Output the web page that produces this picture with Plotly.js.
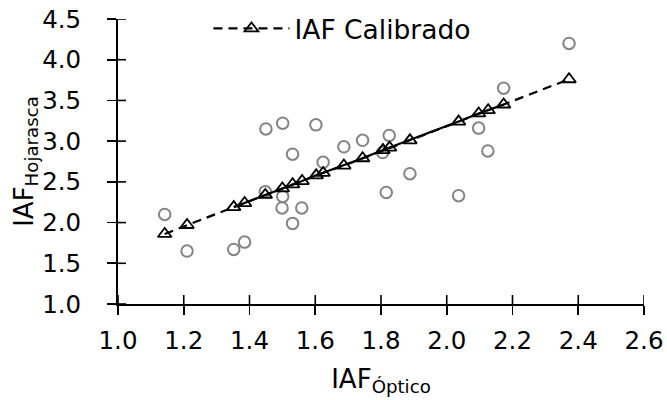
<!DOCTYPE html>
<html>
<head>
<meta charset="utf-8">
<script src="https://cdn.plot.ly/plotly-3.0.1.min.js"></script>
<style>html,body{margin:0;padding:0;background:#fff;}#chart{width:667px;height:400px;}</style>
</head>
<body>
<div id="chart"></div>
<script>
// Observed points (IAF Óptico vs IAF Hojarasca)
const obsX = [1.142, 1.210, 1.352, 1.385, 1.450, 1.448, 1.501, 1.501, 1.499, 1.531, 1.531, 1.559,
              1.602, 1.624, 1.687, 1.744, 1.805, 1.825, 1.816, 1.888, 2.036, 2.097, 2.125, 2.173, 2.372];
const obsY = [2.10, 1.65, 1.67, 1.76, 3.15, 2.38, 3.22, 2.32, 2.18, 2.84, 1.99, 2.18,
              3.20, 2.74, 2.93, 3.01, 2.86, 3.07, 2.37, 2.60, 2.33, 3.16, 2.88, 3.65, 4.20];
// Calibrated series
const calX = [1.142, 1.210, 1.352, 1.385, 1.448, 1.500, 1.531, 1.560, 1.603, 1.624,
              1.687, 1.744, 1.806, 1.826, 1.888, 2.036, 2.097, 2.126, 2.173, 2.372];
const calY = [1.86, 1.97, 2.19, 2.24, 2.34, 2.42, 2.47, 2.51, 2.58, 2.61,
              2.70, 2.79, 2.89, 2.92, 3.01, 3.24, 3.34, 3.38, 3.45, 3.76];
const calName = 'IAF Calibrado';
const xTicks = [1.0, 1.2, 1.4, 1.6, 1.8, 2.0, 2.2, 2.4, 2.6];
const yTicks = [1.0, 1.5, 2.0, 2.5, 3.0, 3.5, 4.0, 4.5];
const xTitle = 'IAF<sub>Óptico</sub>';
const yTitle = 'IAF<sub>Hojarasca</sub>';
// segment of the calibrated line drawn solid (indices)
const solidFrom = 2, solidTo = 18;

const FONT = 'DejaVu Sans, Verdana, sans-serif';
const xRange = [1.0, 2.6], yRange = [1.0, 4.5];

const traces = [
  {x: obsX, y: obsY, mode: 'markers', type: 'scatter', showlegend: false,
   marker: {symbol: 'circle-open', size: 11.5, color: '#848484', line: {width: 2, color: '#848484'}}},
  {x: calX.slice(solidFrom, solidTo + 1), y: calY.slice(solidFrom, solidTo + 1), mode: 'lines', type: 'scatter',
   showlegend: false, line: {color: '#000', width: 2.2}},
  {x: calX, y: calY, mode: 'lines+markers', type: 'scatter', name: calName,
   line: {color: '#000', width: 2.2, dash: '9px,6px'},
   marker: {symbol: 'triangle-up-open', size: 12, color: '#000', line: {width: 1.8, color: '#000'}}}
];

// inner halves of the crossing tick marks, placed through the axis scales
const tickStyle = {color: '#000', width: 1.6};
const shapes = []
  .concat(xTicks.map(v => ({type: 'line', xref: 'x', yref: 'y', ysizemode: 'pixel', yanchor: yRange[0],
    x0: v, x1: v, y0: 0, y1: 9, line: tickStyle})))
  .concat(yTicks.map(v => ({type: 'line', xref: 'x', yref: 'y', xsizemode: 'pixel', xanchor: xRange[0],
    x0: 0, x1: 8, y0: v, y1: v, line: tickStyle})));

const axBase = {showgrid: false, zeroline: false, tickcolor: '#000', tickwidth: 1.6, ticklen: 9,
                ticks: 'outside', showline: true, linecolor: '#000', linewidth: 2};
const layout = {
  width: 667, height: 400,
  margin: {l: 117.5, r: 23, t: 19, b: 95.7, autoexpand: false},
  paper_bgcolor: '#fff', plot_bgcolor: '#fff',
  font: {family: FONT, color: '#000', size: 24.5},
  showlegend: true,
  legend: {x: 0.172, y: 0.966, xanchor: 'left', yanchor: 'middle',
           bgcolor: 'rgba(0,0,0,0)', font: {family: FONT, size: 26.5, color: '#000'}, itemwidth: 76},
  shapes: shapes,
  xaxis: Object.assign({}, axBase, {range: xRange, tickvals: xTicks, ticktext: xTicks.map(v => v.toFixed(1)),
    ticklabelstandoff: 5,
    title: {text: xTitle, font: {family: FONT, size: 26, color: '#000'}, standoff: 15}}),
  yaxis: Object.assign({}, axBase, {range: yRange, tickvals: yTicks, ticktext: yTicks.map(v => v.toFixed(1)),
    ticklabelstandoff: 21,
    title: {text: yTitle, font: {family: FONT, size: 26, color: '#000'}, standoff: 0}})
};

Plotly.newPlot('chart', traces, layout, {displayModeBar: false, staticPlot: true});
</script>
</body>
</html>
